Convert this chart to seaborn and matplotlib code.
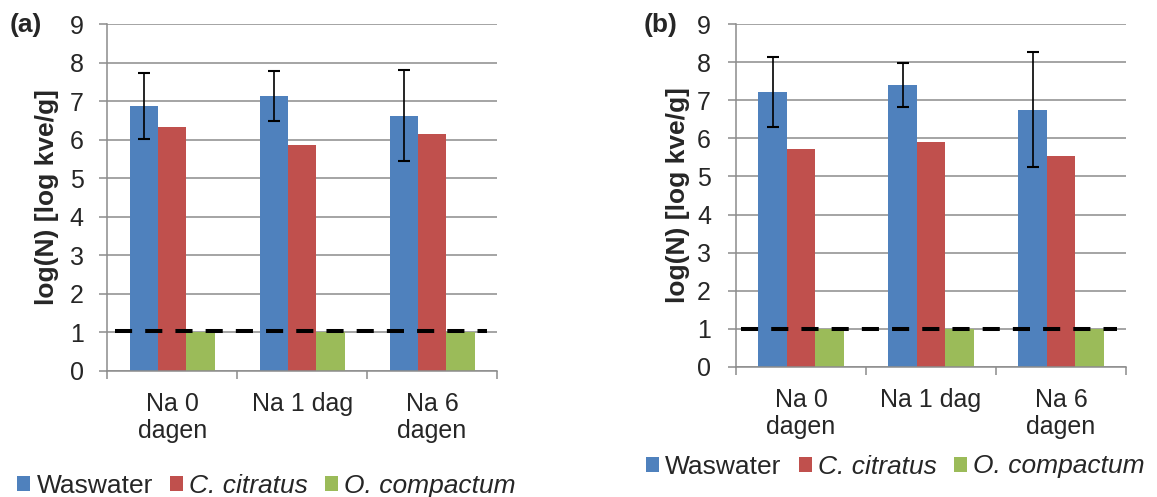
import numpy as np
import pandas as pd
import matplotlib
matplotlib.use('Agg')
import matplotlib.pyplot as plt
import seaborn as sns

# data
categories = ["Na 0\ndagen", "Na 1 dag", "Na 6\ndagen"]
series = ["Waswater", "C. citratus", "O. compactum"]

a_waswater = [6.88, 7.14, 6.63]
a_waswater_err = [0.86, 0.65, 1.18]
a_citratus = [6.33, 5.87, 6.14]
a_compactum = [1.0, 1.0, 1.0]
a_limit = 1.03

b_waswater = [7.23, 7.40, 6.76]
b_waswater_err = [0.92, 0.58, 1.50]
b_citratus = [5.72, 5.90, 5.55]
b_compactum = [1.0, 1.0, 1.0]
b_limit = 0.98

colors = ['#4F81BD', '#C0504D', '#9BBB59']
GRID = '#8C8C8C'

sns.set_style('white')
plt.rcParams['font.family'] = ['Liberation Sans', 'DejaVu Sans']


def make_df(ws, cc, oc):
    rows = []
    for s, vals in zip(series, [ws, cc, oc]):
        for c, v in zip(categories, vals):
            rows.append({'cat': c, 'serie': s, 'val': v})
    return pd.DataFrame(rows)


W, H = 1157, 497
fig = plt.figure(figsize=(W / 100, H / 100), dpi=100)
ax_a = fig.add_axes([107.3 / W, 1 - 370.7 / H, 389.7 / W, 346.4 / H])
ax_b = fig.add_axes([736 / W, 1 - 366.7 / H, 390 / W, 342.4 / H])

panels = [
    # ax, data, err-series, err, limit, limit extent, tag, tag pos, ylabel x, legend pos, ytick pad
    (ax_a, make_df(a_waswater, a_citratus, a_compactum), a_waswater, a_waswater_err, a_limit,
     (0.0195, 0.975), '(a)', (26, 25), (46.7 - 107.3) / 389.7, (17.3, 486), 11.5),
    (ax_b, make_df(b_waswater, b_citratus, b_compactum), b_waswater, b_waswater_err, b_limit,
     (0.0138, 0.977), '(b)', (661, 25), (677.6 - 736) / 390, (646, 466.5), 12.5),
]

for ax, df, ws, ws_err, limit, (lx0, lx1), tag, (tx, ty), ylx, (legx, legy), ypad in panels:
    sns.barplot(data=df, x='cat', y='val', hue='serie', order=categories, hue_order=series,
                palette=colors, width=0.655, saturation=1, errorbar=None,
                edgecolor='none', linewidth=0, ax=ax, zorder=2)

    # error bars on the Waswater bars
    wpatches = ax.patches[:len(categories)]
    xs = [p.get_x() + p.get_width() / 2 for p in wpatches]
    ax.errorbar(xs, ws, yerr=ws_err, fmt='none', ecolor='black', elinewidth=1.2,
                capsize=4.2, capthick=1.5, zorder=4)

    # detection limit
    ax.axhline(limit, xmin=lx0, xmax=lx1, color='black', lw=2.9,
               linestyle=(0, (4.25, 3.25)), zorder=5)

    ax.set_xlim(-0.5, 2.5)
    ax.set_ylim(0, 9)
    ax.set_yticks(range(0, 10))
    ax.yaxis.grid(True, color=GRID, lw=1.1, zorder=0)
    ax.set_axisbelow(True)
    for side in ['top', 'right']:
        ax.spines[side].set_visible(False)
    for side in ['left', 'bottom']:
        ax.spines[side].set_color(GRID)
        ax.spines[side].set_linewidth(1.1)
    ax.tick_params(axis='y', which='major', length=5.5, width=1.1, color=GRID,
                   direction='out', labelsize=18, pad=ypad, left=True)
    ax.set_xticks(range(len(categories)))
    ax.set_xticklabels(categories, fontsize=18, linespacing=1.2)
    ax.tick_params(axis='x', which='major', length=0, pad=15)
    ax.set_xticks([-0.5, 0.5, 1.5, 2.5], minor=True)
    ax.tick_params(axis='x', which='minor', length=5.5, width=1.1, color=GRID,
                   direction='out', bottom=True)
    ax.set_xlabel('')
    ax.set_ylabel('log(N) [log kve/g]', fontsize=19, fontweight='bold', va='center')
    ax.yaxis.set_label_coords(ylx, 0.5)

    fig.text(tx / W, 1 - ty / H, tag, fontsize=19, fontweight='bold',
             ha='center', va='center')

    handles, labels = ax.get_legend_handles_labels()
    ax.get_legend().remove()
    leg = ax.legend(handles, labels, loc='center left',
                    bbox_to_anchor=(legx / W, 1 - legy / H),
                    bbox_transform=fig.transFigure, ncol=3, frameon=False,
                    fontsize=19, handlelength=0.5, handleheight=0.5,
                    handletextpad=0.23, columnspacing=0.64, borderpad=0, borderaxespad=0)
    for t in leg.get_texts()[1:]:
        t.set_style('italic')

fig.savefig('out.png', dpi=100)
